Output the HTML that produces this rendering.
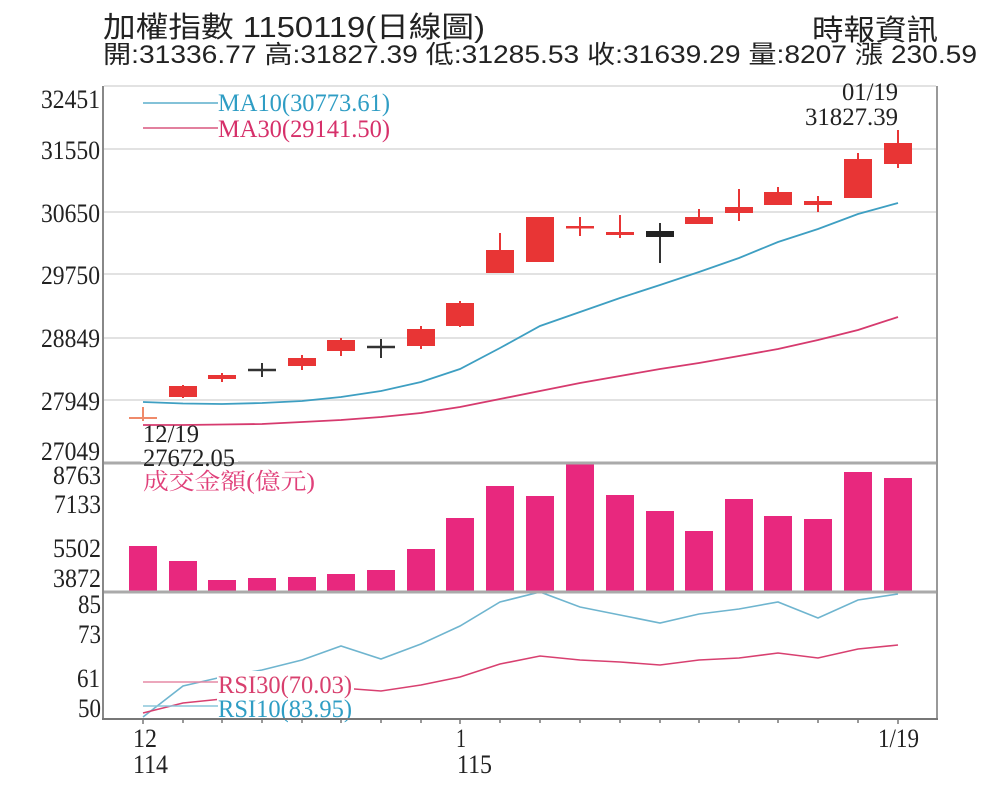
<!DOCTYPE html>
<html><head><meta charset="utf-8"><style>
html,body{margin:0;padding:0;background:#fff;}
svg{display:block;}
.s{font-family:"Liberation Serif","Noto Serif CJK SC",serif;}
.h{font-family:"Liberation Sans","Noto Sans CJK TC",sans-serif;fill:#222;}
</style></head><body>
<svg width="1000" height="801" viewBox="0 0 1000 801" xmlns="http://www.w3.org/2000/svg">
<rect width="1000" height="801" fill="#fff"/>
<!-- header -->
<text class="h" x="103" y="37" font-size="29" textLength="382" lengthAdjust="spacingAndGlyphs">加權指數 1150119(日線圖)</text>
<text class="h" x="812" y="40" font-size="29" textLength="126" lengthAdjust="spacingAndGlyphs">時報資訊</text>
<text class="h" x="103" y="63" font-size="25" textLength="874" lengthAdjust="spacingAndGlyphs">開:31336.77 高:31827.39 低:31285.53 收:31639.29 量:8207 漲 230.59</text>

<!-- grid -->
<g stroke="#e2e2e2" stroke-width="2">
<line x1="104" y1="86" x2="936" y2="86"/>
<line x1="104" y1="149" x2="936" y2="149"/>
<line x1="104" y1="212" x2="936" y2="212"/>
<line x1="104" y1="274" x2="936" y2="274"/>
<line x1="104" y1="338" x2="936" y2="338"/>
<line x1="104" y1="400" x2="936" y2="400"/>
</g>

<!-- y labels -->
<g class="s" font-size="26" fill="#222">
<text x="41" y="108" textLength="59" lengthAdjust="spacingAndGlyphs">32451</text>
<text x="41" y="159" textLength="59" lengthAdjust="spacingAndGlyphs">31550</text>
<text x="41" y="222" textLength="59" lengthAdjust="spacingAndGlyphs">30650</text>
<text x="41" y="284" textLength="59" lengthAdjust="spacingAndGlyphs">29750</text>
<text x="41" y="347" textLength="59" lengthAdjust="spacingAndGlyphs">28849</text>
<text x="41" y="410" textLength="59" lengthAdjust="spacingAndGlyphs">27949</text>
<text x="41" y="460" textLength="59" lengthAdjust="spacingAndGlyphs">27049</text>
<text x="53" y="484" textLength="48" lengthAdjust="spacingAndGlyphs">8763</text>
<text x="54" y="513" textLength="47" lengthAdjust="spacingAndGlyphs">7133</text>
<text x="53" y="557" textLength="48" lengthAdjust="spacingAndGlyphs">5502</text>
<text x="53" y="587" textLength="48" lengthAdjust="spacingAndGlyphs">3872</text>
<text x="78" y="613" textLength="23" lengthAdjust="spacingAndGlyphs">85</text>
<text x="78" y="643" textLength="23" lengthAdjust="spacingAndGlyphs">73</text>
<text x="77" y="687" textLength="23" lengthAdjust="spacingAndGlyphs">61</text>
<text x="78" y="717" textLength="23" lengthAdjust="spacingAndGlyphs">50</text>
</g>

<!-- MA lines -->
<polyline fill="none" stroke="#3e9fc2" stroke-width="1.8" points="143,402 183,403.5 222,404 262,403 302,401 341,397 381,391 421,382 460,369 500,348 540,326 580,312 620,298 660,285 699,272 739,258 778,242 818,229 858,214 898,203"/>
<polyline fill="none" stroke="#d63a6e" stroke-width="1.8" points="143,425 183,425 222,424.5 262,424 302,422 341,420 381,417 421,413 460,407 500,399 540,391 580,383 620,376 660,369 699,363 739,356 778,349 818,340 858,330 898,317"/>

<!-- candles -->
<g stroke="#e83535" stroke-width="2">
<line x1="183" y1="385" x2="183" y2="398"/>
<line x1="222" y1="373" x2="222" y2="382"/>
<line x1="302" y1="355" x2="302" y2="370"/>
<line x1="341" y1="338" x2="341" y2="356"/>
<line x1="421" y1="326" x2="421" y2="349"/>
<line x1="460" y1="301" x2="460" y2="327"/>
<line x1="500" y1="233" x2="500" y2="273"/>
<line x1="540" y1="217" x2="540" y2="262"/>
<line x1="580" y1="217" x2="580" y2="236"/>
<line x1="620" y1="215" x2="620" y2="238"/>
<line x1="699" y1="209" x2="699" y2="224"/>
<line x1="739" y1="189" x2="739" y2="221"/>
<line x1="778" y1="187" x2="778" y2="205"/>
<line x1="818" y1="196" x2="818" y2="212"/>
<line x1="858" y1="153" x2="858" y2="198"/>
<line x1="898" y1="130" x2="898" y2="168"/>
</g>
<g fill="#e83535">
<rect x="169" y="386" width="28" height="11"/>
<rect x="208" y="375" width="28" height="4"/>
<rect x="288" y="358" width="28" height="8"/>
<rect x="327" y="340" width="28" height="11"/>
<rect x="407" y="329" width="28" height="17"/>
<rect x="446" y="303" width="28" height="23"/>
<rect x="486" y="250" width="28" height="23"/>
<rect x="526" y="217" width="28" height="45"/>
<rect x="566" y="226" width="28" height="2.5"/>
<rect x="606" y="232" width="28" height="3"/>
<rect x="685" y="217" width="28" height="7"/>
<rect x="725" y="207" width="28" height="6"/>
<rect x="764" y="192" width="28" height="13"/>
<rect x="804" y="201" width="28" height="4"/>
<rect x="844" y="159" width="28" height="39"/>
<rect x="884" y="143" width="28" height="21"/>
</g>
<!-- first candle (light) -->
<g stroke="#ef8a6a" stroke-width="2">
<line x1="129" y1="418" x2="157" y2="418"/>
<line x1="143" y1="407" x2="143" y2="421"/>
</g>
<!-- black candles -->
<g stroke="#333" stroke-width="2">
<line x1="248" y1="370" x2="276" y2="370" stroke-width="2.5"/>
<line x1="262" y1="363" x2="262" y2="377"/>
<line x1="367" y1="347" x2="395" y2="347" stroke-width="2.5"/>
<line x1="381" y1="339" x2="381" y2="358"/>
<line x1="660" y1="223" x2="660" y2="263"/>
</g>
<rect x="646" y="231" width="28" height="6" fill="#222"/>

<!-- MA legend -->
<line x1="143" y1="103" x2="218" y2="103" stroke="#5aaecb" stroke-width="1.5"/>
<line x1="143" y1="128" x2="218" y2="128" stroke="#d8577f" stroke-width="1.5"/>
<text class="s" x="218" y="111" font-size="25" fill="#2f9dc4" textLength="172" lengthAdjust="spacingAndGlyphs">MA10(30773.61)</text>
<text class="s" x="218" y="137" font-size="25" fill="#d6306a" textLength="172" lengthAdjust="spacingAndGlyphs">MA30(29141.50)</text>

<!-- annotations -->
<text class="s" x="842" y="100" font-size="25" fill="#222" textLength="56" lengthAdjust="spacingAndGlyphs">01/19</text>
<text class="s" x="805" y="125" font-size="25" fill="#222" textLength="93" lengthAdjust="spacingAndGlyphs">31827.39</text>

<!-- volume bars -->
<g fill="#e8287e">
<rect x="129" y="546" width="28" height="46"/>
<rect x="169" y="561" width="28" height="31"/>
<rect x="208" y="580" width="28" height="12"/>
<rect x="248" y="578" width="28" height="14"/>
<rect x="288" y="577" width="28" height="15"/>
<rect x="327" y="574" width="28" height="18"/>
<rect x="367" y="570" width="28" height="22"/>
<rect x="407" y="549" width="28" height="43"/>
<rect x="446" y="518" width="28" height="74"/>
<rect x="486" y="486" width="28" height="106"/>
<rect x="526" y="496" width="28" height="96"/>
<rect x="566" y="463" width="28" height="129"/>
<rect x="606" y="495" width="28" height="97"/>
<rect x="646" y="511" width="28" height="81"/>
<rect x="685" y="531" width="28" height="61"/>
<rect x="725" y="499" width="28" height="93"/>
<rect x="764" y="516" width="28" height="76"/>
<rect x="804" y="519" width="28" height="73"/>
<rect x="844" y="472" width="28" height="120"/>
<rect x="884" y="478" width="28" height="114"/>
</g>
<text class="s" x="143" y="489" font-size="23" fill="#e0407a" textLength="172" lengthAdjust="spacingAndGlyphs">成交金額(億元)</text>

<!-- RSI lines -->
<polyline fill="none" stroke="#6fb5cf" stroke-width="1.6" points="143,717 183,686 222,677 262,670 302,660 341,646 381,659 421,644 460,626 500,602 540,592 580,607 620,615 660,623 699,614 739,609 778,602 818,618 858,600 898,594"/>
<polyline fill="none" stroke="#d84070" stroke-width="1.6" points="143,713 183,703 222,699 262,697 302,694 341,688 381,691 421,685 460,677 500,664 540,656 580,660 620,662 660,665 699,660 739,658 778,653 818,658 858,649 898,645"/>
<rect x="217" y="671" width="137" height="46" fill="#fff"/>
<line x1="143" y1="682" x2="218" y2="682" stroke="#e68aa6" stroke-width="1.5"/>
<line x1="143" y1="706" x2="218" y2="706" stroke="#8cc6da" stroke-width="1.5"/>
<text class="s" x="218" y="693" font-size="25" fill="#d8406e" textLength="134" lengthAdjust="spacingAndGlyphs">RSI30(70.03)</text>
<text class="s" x="218" y="717" font-size="25" fill="#2f9dc4" textLength="134" lengthAdjust="spacingAndGlyphs">RSI10(83.95)</text>

<!-- separators & frame -->
<line x1="103" y1="463" x2="937" y2="463" stroke="#aaa" stroke-width="3"/>
<line x1="103" y1="592" x2="937" y2="592" stroke="#aaa" stroke-width="3"/>
<line x1="103" y1="86" x2="103" y2="720" stroke="#888" stroke-width="2"/>
<line x1="937" y1="86" x2="937" y2="720" stroke="#999" stroke-width="2"/>
<line x1="102" y1="719" x2="938" y2="719" stroke="#777" stroke-width="2"/>
<g stroke="#777" stroke-width="1.5">
<line x1="143" y1="719" x2="143" y2="724"/><line x1="183" y1="719" x2="183" y2="723"/>
<line x1="222" y1="719" x2="222" y2="723"/><line x1="262" y1="719" x2="262" y2="723"/>
<line x1="302" y1="719" x2="302" y2="723"/><line x1="341" y1="719" x2="341" y2="723"/>
<line x1="381" y1="719" x2="381" y2="723"/><line x1="421" y1="719" x2="421" y2="723"/>
<line x1="460" y1="719" x2="460" y2="724"/><line x1="500" y1="719" x2="500" y2="723"/>
<line x1="540" y1="719" x2="540" y2="723"/><line x1="580" y1="719" x2="580" y2="723"/>
<line x1="620" y1="719" x2="620" y2="723"/><line x1="660" y1="719" x2="660" y2="723"/>
<line x1="699" y1="719" x2="699" y2="723"/><line x1="739" y1="719" x2="739" y2="723"/>
<line x1="778" y1="719" x2="778" y2="723"/><line x1="818" y1="719" x2="818" y2="723"/>
<line x1="858" y1="719" x2="858" y2="723"/><line x1="898" y1="719" x2="898" y2="724"/>
</g>

<!-- 12/19 annotation over separator -->
<rect x="141" y="446" width="97" height="16" fill="#fff"/>
<text class="s" x="143" y="442" font-size="25" fill="#222" textLength="56" lengthAdjust="spacingAndGlyphs">12/19</text>
<text class="s" x="143" y="466" font-size="25" fill="#222" textLength="92" lengthAdjust="spacingAndGlyphs">27672.05</text>

<!-- x labels -->
<g class="s" font-size="26" fill="#222">
<text x="133" y="747" textLength="24" lengthAdjust="spacingAndGlyphs">12</text>
<text x="133" y="773" textLength="35" lengthAdjust="spacingAndGlyphs">114</text>
<text x="456" y="747" textLength="10" lengthAdjust="spacingAndGlyphs">1</text>
<text x="457" y="773" textLength="35" lengthAdjust="spacingAndGlyphs">115</text>
<text x="878" y="747" textLength="41" lengthAdjust="spacingAndGlyphs">1/19</text>
</g>
</svg>
</body></html>
